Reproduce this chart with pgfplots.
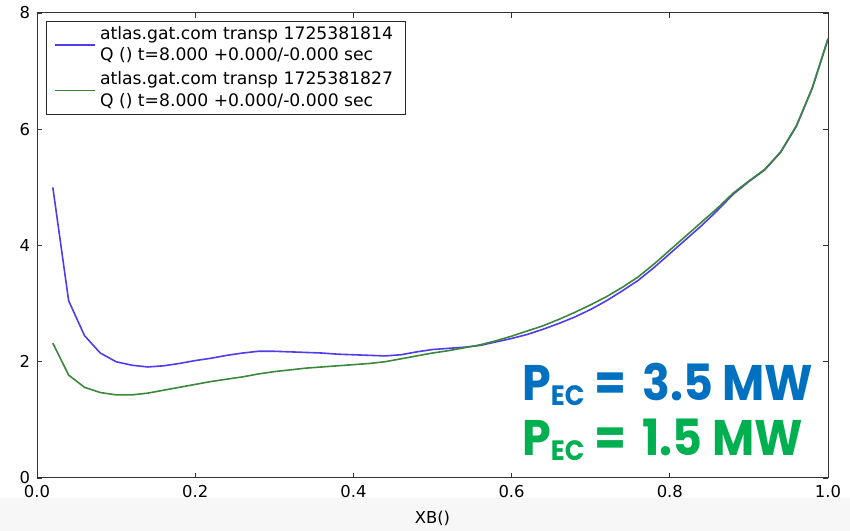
\documentclass[border=0pt]{standalone}
\usepackage{pgfplots}
\pgfplotsset{compat=1.18}
\usepackage{fontspec}
\setmainfont{DejaVu Sans}
\newfontfamily\geo[FakeStretch=0.92]{Poppins}
\usetikzlibrary{calc,backgrounds}
\definecolor{lineblue}{RGB}{80,60,235}
\definecolor{linegreen}{RGB}{60,135,60}
\definecolor{pptblue}{RGB}{0,112,192}
\definecolor{pptgreen}{RGB}{0,176,80}
\definecolor{band}{RGB}{247,247,247}

\begin{document}
\begin{tikzpicture}
\begin{axis}[
    name=ax,
    scale only axis,
    width=395.5pt, height=232.5pt,
    xmin=0, xmax=1, ymin=0, ymax=8,
    xtick={0,0.2,...,1.0}, ytick={0,2,4,6,8},
    xticklabel style={/pgf/number format/fixed, /pgf/number format/fixed zerofill,
        /pgf/number format/precision=1},
    tick label style={font=\fontsize{8.2}{9}\selectfont},
    /pgf/number format/assume math mode=true,
    tick align=inside,
    major tick length=2.5pt,
    axis line style={draw=black!80, line width=0.5pt},
    tick style={draw=black!80, line width=0.4pt},
    xlabel={XB()},
    xlabel style={font=\fontsize{8.2}{9}\selectfont, yshift=0pt},
    legend cell align=left,
    legend style={at={(axis description cs:0,1)}, anchor=north west,
        xshift=4.5pt, yshift=-4pt,
        draw=black!85, line width=0.5pt,
        font=\fontsize{8.6}{10.65}\selectfont,
        cells={align=left},
        inner xsep=4pt, inner ysep=0.5pt},
    legend image code/.code={\draw[#1] (0pt,0pt) -- (12.5pt,0pt);
        \path (0pt,0pt) -- (20pt,0pt);},
]
\addplot[lineblue, line width=0.8pt] coordinates {
 (0.02,5.00) (0.04,3.05) (0.06,2.45) (0.08,2.15) (0.10,2.00) (0.12,1.94)
 (0.14,1.91) (0.16,1.93) (0.18,1.97) (0.20,2.02) (0.22,2.06) (0.24,2.11)
 (0.26,2.15) (0.28,2.18) (0.30,2.18) (0.32,2.17) (0.34,2.16) (0.36,2.15)
 (0.38,2.13) (0.40,2.12) (0.42,2.11) (0.44,2.10) (0.46,2.12) (0.48,2.17)
 (0.50,2.21) (0.52,2.23) (0.54,2.25) (0.56,2.28) (0.58,2.34) (0.60,2.40)
 (0.62,2.47) (0.64,2.56) (0.66,2.66) (0.68,2.77) (0.70,2.90) (0.72,3.05)
 (0.74,3.22) (0.76,3.40) (0.78,3.62) (0.80,3.86) (0.82,4.10) (0.84,4.34)
 (0.86,4.60) (0.88,4.88) (0.90,5.10) (0.92,5.30) (0.94,5.60) (0.96,6.05)
 (0.98,6.70) (1.00,7.55)
};
\addlegendentry{atlas.gat.com transp 1725381814\\Q () t=8.000 +0.000/-0.000 sec}
\addplot[linegreen, line width=0.8pt] coordinates {
 (0.02,2.32) (0.04,1.77) (0.06,1.56) (0.08,1.47) (0.10,1.43) (0.12,1.43)
 (0.14,1.46) (0.16,1.51) (0.18,1.56) (0.20,1.61) (0.22,1.66) (0.24,1.70)
 (0.26,1.74) (0.28,1.79) (0.30,1.83) (0.32,1.86) (0.34,1.89) (0.36,1.91)
 (0.38,1.93) (0.40,1.95) (0.42,1.97) (0.44,2.00) (0.46,2.05) (0.48,2.10)
 (0.50,2.15) (0.52,2.19) (0.54,2.24) (0.56,2.29) (0.58,2.36) (0.60,2.44)
 (0.62,2.53) (0.64,2.62) (0.66,2.73) (0.68,2.85) (0.70,2.98) (0.72,3.12)
 (0.74,3.28) (0.76,3.46) (0.78,3.68) (0.80,3.92) (0.82,4.16) (0.84,4.40)
 (0.86,4.64) (0.88,4.90) (0.90,5.11) (0.92,5.31) (0.94,5.61) (0.96,6.06)
 (0.98,6.71) (1.00,7.56)
};
\addlegendentry{atlas.gat.com transp 1725381827\\Q () t=8.000 +0.000/-0.000 sec}
\node[anchor=base west, inner sep=0pt, text=pptblue,
      font=\geo\bfseries\fontsize{25}{25}\selectfont]
  at (axis cs:0.613,1.34)
  {P\raisebox{-2.5pt}{\fontsize{14}{14}\selectfont EC}\hspace{5pt}=\hspace{3pt} 3.5 MW};
\node[anchor=base west, inner sep=0pt, text=pptgreen,
      font=\geo\bfseries\fontsize{25}{25}\selectfont]
  at (axis cs:0.613,0.38)
  {P\raisebox{-2.5pt}{\fontsize{14}{14}\selectfont EC}\hspace{5pt}=\hspace{3pt} 1.5 MW};
\end{axis}
\pgfresetboundingbox
\path ($(ax.south west)+(-18.5pt,-26.5pt)$) rectangle ($(ax.north east)+(11pt,6.5pt)$);
\begin{scope}[on background layer]
\fill[band] ($(ax.south west)+(-18.5pt,-26.5pt)$) rectangle ($(ax.south east)+(11pt,-10pt)$);
\end{scope}
\end{tikzpicture}
\end{document}
